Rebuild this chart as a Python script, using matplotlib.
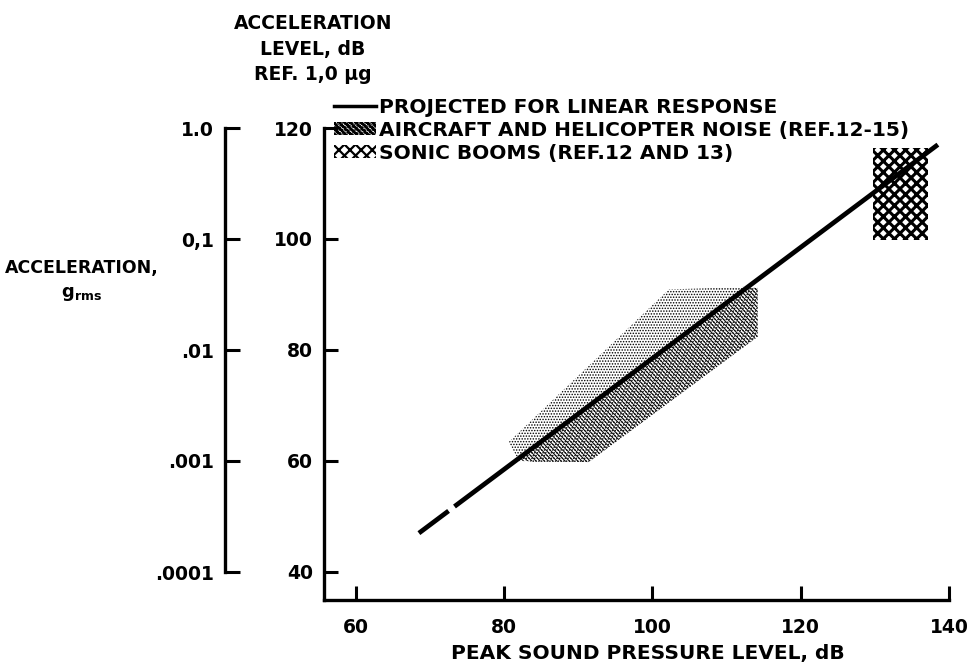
import numpy as np
import matplotlib.pyplot as plt
from matplotlib.patches import Polygon, Rectangle, Patch
from matplotlib.lines import Line2D

plt.rcParams['font.family'] = ['DejaVu Sans']
plt.rcParams['font.weight'] = 'bold'
plt.rcParams['hatch.color'] = 'black'

# projected linear response (peak SPL dB, acceleration level dB) - small gap near the low end
line_spl = [68.5, 72.5, np.nan, 73.3, 138.5]
line_acc = [47.0, 51.0, np.nan, 51.8, 117.0]

# aircraft and helicopter noise band
aircraft_spl = [80.6, 81.8, 83.8, 91.4, 114.2, 114.2, 112.9, 102.2]
aircraft_acc = [63.4, 60.5, 59.8, 59.8, 82.4, 91.2, 91.4, 90.9]
# denser part of the band, below the projected line
dense_spl = [81.5, 91.4, 114.2, 114.2, 112.7]
dense_acc = [60.0, 59.8, 82.4, 91.2, 91.2]

# sonic booms box
boom_spl = (129.8, 137.2)
boom_acc = (99.9, 116.4)

x_ticks = [60, 80, 100, 120, 140]
db_ticks = [40, 60, 80, 100, 120]
g_ticks = [1e-4, 1e-3, 1e-2, 1e-1, 1.0]
g_labels = ['.0001', '.001', '.01', '0,1', '1.0']

W, H = 969, 666
fig = plt.figure(figsize=(W / 100, H / 100), dpi=100)

def fx(px):
    return px / W

def fy(py):
    return 1 - py / H

# main axes (dB scale)
ax = fig.add_axes([fx(324), fy(600), fx(949) - fx(324), fy(128) - fy(600)])
ax.set_xlim(55.7, 140)
ax.set_ylim(34.95, 120)
for s in ['top', 'right']:
    ax.spines[s].set_visible(False)
for s in ['left', 'bottom']:
    ax.spines[s].set_linewidth(2.4)
ax.set_xticks(x_ticks)
ax.set_yticks(db_ticks)
ax.tick_params(axis='x', direction='in', length=10, width=2.2, labelsize=13.5, pad=13)
ax.tick_params(axis='y', direction='in', length=10, width=2.2, labelsize=13.5, pad=8)

plt.rcParams['hatch.linewidth'] = 0.7
ax.add_patch(Polygon(np.column_stack([aircraft_spl, aircraft_acc]), closed=True,
                     facecolor='none', edgecolor='black', hatch='......', lw=0))
ax.add_patch(Polygon(np.column_stack([dense_spl, dense_acc]), closed=True,
                     facecolor='none', edgecolor='black', hatch='\\\\\\\\\\\\\\\\', lw=0))
plt.rcParams['hatch.linewidth'] = 2.2
ax.add_patch(Rectangle((boom_spl[0], boom_acc[0]), boom_spl[1] - boom_spl[0],
                       boom_acc[1] - boom_acc[0], facecolor='none', edgecolor='black',
                       hatch='xxx', lw=0))
ax.plot(line_spl, line_acc, color='black', lw=3.4, solid_capstyle='butt')

plt.rcParams['hatch.linewidth'] = 0.6
aircraft_handle = Patch(facecolor='none', edgecolor='black', lw=0, hatch='\\\\\\\\\\\\.....')
plt.rcParams['hatch.linewidth'] = 1.6
boom_handle = Patch(facecolor='none', edgecolor='black', lw=0, hatch='xxx')
handles = [Line2D([0], [0], color='black', lw=2.5), aircraft_handle, boom_handle]
labels = ['PROJECTED FOR LINEAR RESPONSE',
          'AIRCRAFT AND HELICOPTER NOISE (REF.12-15)',
          'SONIC BOOMS (REF.12 AND 13)']
ax.legend(handles, labels, loc='upper left', bbox_to_anchor=(0.003, 1.081),
          frameon=False, fontsize=14.5, handlelength=2.1, handleheight=0.6,
          handletextpad=0.15, labelspacing=0.2, borderaxespad=0)

fig.text(fx(648), fy(654), 'PEAK SOUND PRESSURE LEVEL, dB', ha='center', va='center',
         fontsize=14.5)
fig.text(fx(313), fy(14), 'ACCELERATION\nLEVEL, dB\nREF. 1,0 \u00b5g', ha='center',
         va='top', fontsize=13.5, linespacing=1.45)

# g_rms scale on the far left
gax = fig.add_axes([fx(225), fy(572), 0.001, fy(128) - fy(572)])
gax.set_yscale('log')
gax.set_ylim(1e-4, 1.0)
gax.set_xticks([])
for s in ['top', 'right', 'bottom']:
    gax.spines[s].set_visible(False)
gax.spines['left'].set_linewidth(2.4)
gax.set_yticks(g_ticks)
gax.set_yticklabels(g_labels)
gax.minorticks_off()
gax.tick_params(axis='y', direction='in', length=11, width=2.2, labelsize=13.5, pad=8)

fig.text(fx(82), fy(268), 'ACCELERATION,', ha='center', va='center', fontsize=12.5)
fig.text(fx(82), fy(294), r'g$_{\mathregular{rms}}$', ha='center', va='center', fontsize=13)

fig.savefig('out.png', dpi=100)
